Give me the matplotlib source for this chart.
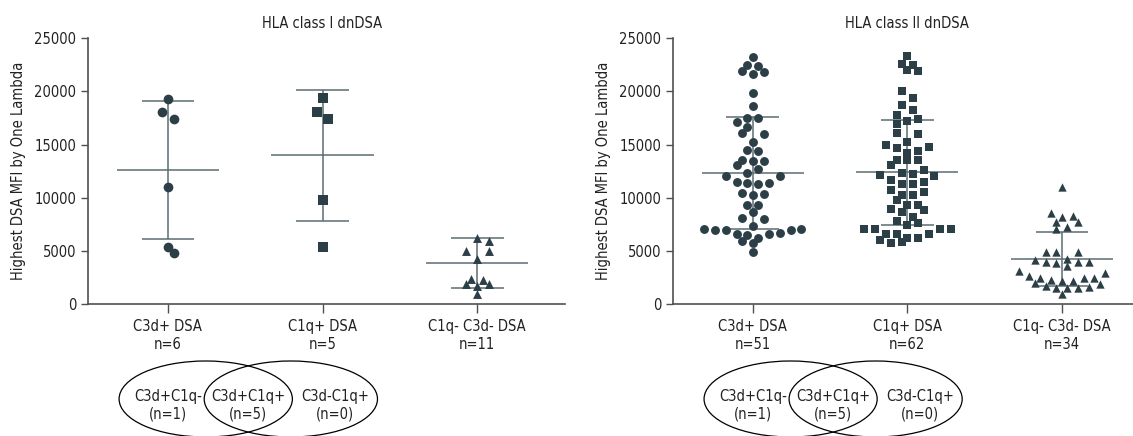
import matplotlib
matplotlib.use("Agg")
import matplotlib.pyplot as plt
from matplotlib import font_manager as fm
from matplotlib.patches import Ellipse
from matplotlib.transforms import blended_transform_factory
import numpy as np

# ---- values ----
groups = ["C3d+ DSA", "C1q+ DSA", "C1q- C3d- DSA"]
counts_I = [6, 5, 11]
counts_II = [51, 62, 34]

c3d_I = [19300, 18100, 17400, 11000, 5400, 4800]
c1q_I = [19400, 18100, 17400, 9800, 5400]
neg_I = [6200, 5900, 4950, 4950, 4250, 2350, 2300, 1850, 1850, 1650, 900]
mean_I = [12600, 13980, 3850]
sd_I = [6500, 6130, 2340]

c3d_II = [23200, 22500, 22350, 21950, 21850, 21600, 19900, 18600, 17500, 17500,
          17100, 16700, 16050, 16000, 15200, 14500, 14350, 13550, 13450, 13450,
          13050, 12700, 12300, 12000, 12000, 11500, 11400, 11400, 11250, 10400,
          10350, 10300, 9300, 9300, 8700, 8100, 8000, 7350, 7100, 7100,
          6950, 6950, 6950, 6650, 6600, 6600, 6450, 6200, 5900, 5700, 4850]
c1q_II = [23350, 22500, 21900, 22000, 22600, 20050, 19350, 18700, 18250, 17800,
          17200, 16950, 17400, 16100, 16000, 15250, 14750, 14400, 14250, 14700,
          14950, 13550, 13550, 13100, 13550, 12200, 12000, 12600, 12150, 12300,
          11450, 11250, 11650, 11250, 10700, 10250, 10250, 10500, 9750, 9300,
          9300, 8800, 8700, 8900, 8200, 7600, 7800, 7050, 7050, 7050,
          7050, 7400, 6550, 6550, 6550, 6200, 6000, 5700, 5800, 6200]
neg_II = [10980, 8300, 8200, 8600, 7700, 7750, 7030, 7200, 4860, 4860,
          4920, 4240, 3920, 3980, 3600, 3830, 3980, 4170, 3070, 2670,
          2420, 2420, 2200, 2200, 2260, 2420, 2950, 1880, 1630, 1500,
          940, 1500, 1500, 1730, 2010]
mean_II = [12320, 12380, 4230]
sd_II = [5300, 4940, 2570]

venn_labels = ["C3d+C1q-", "C3d+C1q+", "C3d-C1q+"]
venn_counts = [1, 5, 0]

# ---- fonts ----
installed = {f.name for f in fm.fontManager.ttflist}
if "Liberation Sans Narrow" in installed:
    font, fsize = "Liberation Sans Narrow", 12
else:
    font, fsize = "DejaVu Sans", 10.5
    plt.rcParams["font.stretch"] = "condensed"
plt.rcParams["font.family"] = [font, "DejaVu Sans"]
plt.rcParams["font.size"] = fsize

W, H = 1133, 436
mark_color = "#2c3e46"
line_color = "#5d6d72"
spine_color = "#505050"
text_color = "#222222"

# approximate pixel scale of the panels, used to keep markers apart
PX_X = 154.5            # px per category
PX_Y = 265.7 / 25000    # px per MFI unit

fig = plt.figure(figsize=(W / 100, H / 100), dpi=100)


def add_axes_px(x0, x1, ytop, ybot):
    return fig.add_axes([x0 / W, 1 - ybot / H, (x1 - x0) / W, (ybot - ytop) / H])


def row_offsets(values, step, dmin, row_h=1000, base=200):
    # Prism-like column scatter: points binned in rows and spread sideways,
    # highest values of a row on the outside; a row is nudged sideways if it
    # would sit on top of the row above it
    values = np.asarray(values, dtype=float)
    rows = {}
    for i, v in enumerate(values):
        rows.setdefault(int((v - base) // row_h), []).append(i)
    off = np.zeros(len(values))
    placed = []
    for key in sorted(rows, reverse=True):
        idx = rows[key]
        n = len(idx)
        slots = sorted([(k - (n - 1) / 2) * step for k in range(n)], key=lambda s: (-abs(s), s))
        ranked = sorted(idx, key=lambda i: -values[i])
        for shift in [0, 0.5, -0.5, 1, -1, 1.5, -1.5]:
            trial = {i: s + shift * step for i, s in zip(ranked, slots)}
            ok = all(np.hypot((trial[i] - off[j]) * PX_X, (values[i] - values[j]) * PX_Y) >= dmin
                     for i in trial for j in placed)
            if ok:
                break
        for i, x in trial.items():
            off[i] = x
        placed.extend(idx)
    return off


def panel(ax, title, series, markers, sizes, step, means, sds, counts, xmax):
    for i, (vals, mk, sz) in enumerate(zip(series, markers, sizes)):
        xs = i + row_offsets(vals, step, sz * 100 / 72 * 0.8)
        ax.scatter(xs, vals, marker=mk, s=sz ** 2, color=mark_color, linewidths=0, zorder=3)
    for i, (m, s) in enumerate(zip(means, sds)):
        ax.hlines(m, i - 0.33, i + 0.33, color=line_color, lw=1.1, zorder=2)
        ax.vlines(i, m - s, m + s, color=line_color, lw=1.1, zorder=2)
        ax.hlines([m - s, m + s], i - 0.17, i + 0.17, color=line_color, lw=1.1, zorder=2)

    ax.set_xlim(-0.514, xmax)
    ax.set_ylim(0, 25000)
    ax.set_yticks(range(0, 25001, 5000))
    ax.set_xticks(range(len(groups)))
    ax.set_xticklabels([f"{g}\nn={n}" for g, n in zip(groups, counts)])
    for t in ax.get_xticklabels():
        t.set_linespacing(1.3)
    ax.set_ylabel("Highest DSA MFI by One Lambda", color=text_color)
    width_px = ax.get_position().width * W
    ax.yaxis.set_label_coords(-62 / width_px, 0.5)

    for side in ["top", "right"]:
        ax.spines[side].set_visible(False)
    for side in ["left", "bottom"]:
        ax.spines[side].set_color(spine_color)
        ax.spines[side].set_linewidth(1.2)
    ax.tick_params(axis="y", length=5, width=1, pad=3.5, color=spine_color, labelcolor=text_color)
    ax.tick_params(axis="x", length=6.5, width=1, pad=4, color=spine_color, labelcolor=text_color)

    tr = blended_transform_factory(ax.transData, ax.transAxes)
    ax.text(1, 1.0565, title, transform=tr, ha="center", va="center", color=text_color)

    # Venn-style ellipses under the first two categories
    trf = blended_transform_factory(ax.transData, fig.transFigure)
    for cx in [0.245, 0.795]:
        e = Ellipse((cx, 1 - 399 / H), 1.12, 76 / H, transform=trf, fill=False,
                    ec="black", lw=0.9, clip_on=False)
        fig.add_artist(e)
    for x, lab, n in zip([0.0, 0.52, 1.08], venn_labels, venn_counts):
        fig.text(x, 1 - 405.4 / H, f"{lab}\n(n={n})", transform=trf, ha="center",
                 va="center", linespacing=1.15, color=text_color)


ax1 = add_axes_px(88.3, 565, 38.3, 304)
panel(ax1, "HLA class I dnDSA", [c3d_I, c1q_I, neg_I], ["o", "s", "^"], [7, 7, 6.4],
      0.075, mean_I, sd_I, counts_I, 2.567)

ax2 = add_axes_px(673.3, 1133, 38.3, 304)
panel(ax2, "HLA class II dnDSA", [c3d_II, c1q_II, neg_II], ["o", "s", "^"], [6.4, 6.4, 6.0],
      0.07, mean_II, sd_II, counts_II, 2.46)

fig.savefig("out.png", dpi=100)
